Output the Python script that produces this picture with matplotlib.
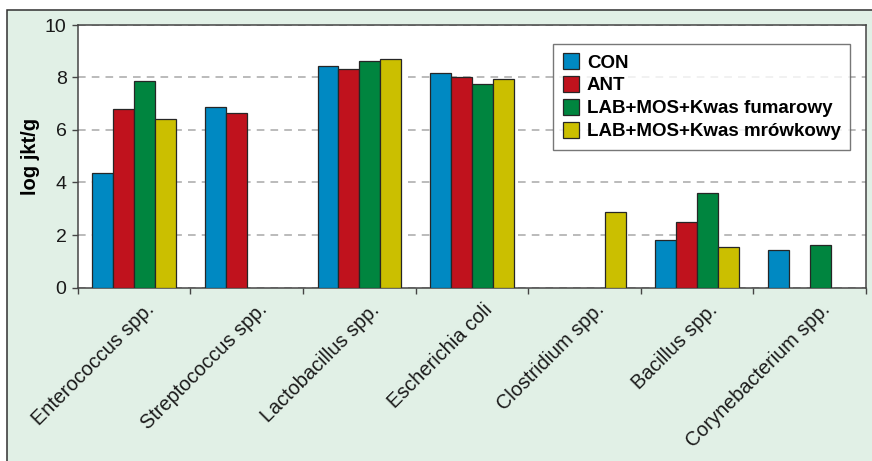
import matplotlib
matplotlib.use("Agg")
import matplotlib.pyplot as plt
import matplotlib.transforms as mtransforms
from matplotlib.patches import Rectangle
import numpy as np

plt.rcParams["font.family"] = ["Liberation Sans", "DejaVu Sans"]

# dane
categories = ["Enterococcus spp.", "Streptococcus spp.", "Lactobacillus spp.",
              "Escherichia coli", "Clostridium spp.", "Bacillus spp.",
              "Corynebacterium spp."]
series_names = ["CON", "ANT", "LAB+MOS+Kwas fumarowy", "LAB+MOS+Kwas mrówkowy"]
con = [4.37, 6.89, 8.42, 8.18, np.nan, 1.80, 1.43]
ant = [6.79, 6.64, 8.31, 8.00, np.nan, 2.48, np.nan]
fum = [7.87, np.nan, 8.61, 7.77, np.nan, 3.60, 1.61]
mrow = [6.42, np.nan, 8.72, 7.95, 2.88, 1.54, np.nan]
colors = ["#0089c2", "#c0121d", "#00853f", "#cbbf00"]

fig = plt.figure(figsize=(8.72, 4.61), dpi=100)
fig.patch.set_facecolor("white")

# zielone tlo z ramka
W, H = 872, 461
fig.patches.append(Rectangle((7 / W, -0.05), 1.0, (H - 10) / H + 0.05,
                             transform=fig.transFigure, facecolor="#e1f0e6",
                             edgecolor="#303030", linewidth=1.1, zorder=-10))

ax = fig.add_axes([77.7 / W, (H - 287.5) / H, (866 - 77.7) / W, (287.5 - 25) / H])
ax.set_facecolor("white")

x = np.arange(len(categories))
w = 0.185
for k, (vals, name, c) in enumerate(zip([con, ant, fum, mrow], series_names, colors)):
    vals = np.array(vals, dtype=float)
    m = ~np.isnan(vals)
    ax.bar(x[m] + (k - 1.5) * w, vals[m], width=w, color=c, edgecolor="#262626",
           linewidth=0.9, label=name, zorder=3)

ax.set_xlim(-0.5, len(categories) - 0.5)
ax.set_ylim(0, 10)
ax.set_yticks([0, 2, 4, 6, 8, 10])
ax.set_xticks(np.arange(-0.5, len(categories)))
ax.set_xticklabels([])

ax.grid(axis="y", color="#a8a8a8", linestyle=(0, (5, 4)), linewidth=1.1, zorder=1)
for s in ax.spines.values():
    s.set_color("#454545")
    s.set_linewidth(1.1)

ax.tick_params(axis="both", direction="out", length=4.5, width=1.0, color="#454545")
ax.tick_params(axis="y", labelsize=14, pad=3.5, labelcolor="#1a1a1a")

# etykiety osi x (prawy gorny rog ramki przy osi)
off = mtransforms.ScaledTranslation(24 / 100, -12.5 / 100, fig.dpi_scale_trans)
for i, cat in enumerate(categories):
    ax.text(i, 0, cat, transform=ax.get_xaxis_transform() + off, rotation=45,
            ha="right", va="top", fontsize=14.3, color="#1a1a1a")

ax.set_ylabel("log jkt/g", fontsize=14.5, fontweight="bold", labelpad=3.5)

leg = ax.legend(loc="upper right", bbox_to_anchor=(0.98, 0.928), borderaxespad=0,
                prop={"weight": "bold", "size": 13.5}, frameon=True,
                fancybox=False, handlelength=0.9, handleheight=0.9,
                handletextpad=0.4, labelspacing=0.25, borderpad=0.5)
leg.get_frame().set_edgecolor("#555555")
leg.get_frame().set_linewidth(1.0)

fig.savefig("out.png", dpi=100)
